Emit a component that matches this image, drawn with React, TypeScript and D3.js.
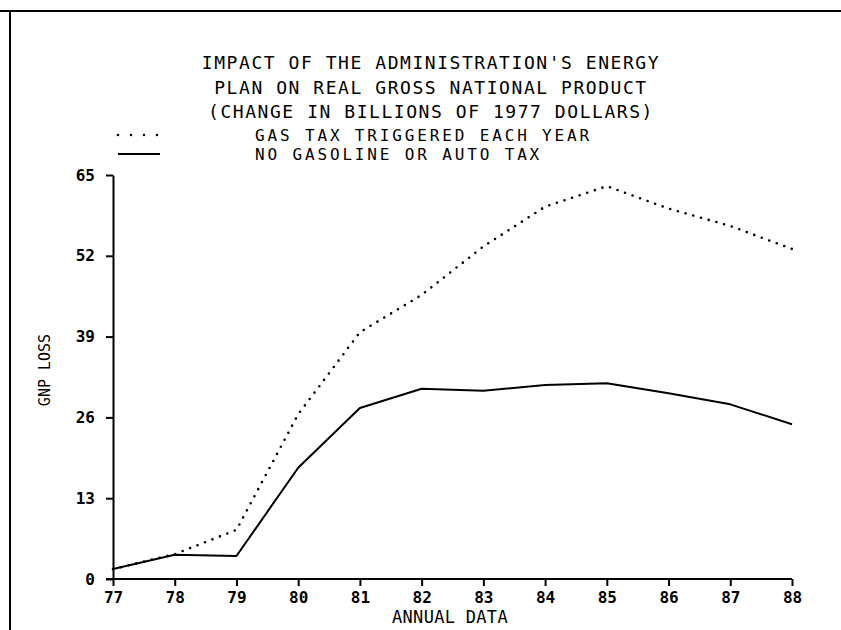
import { useEffect, useRef } from "react";
import * as d3 from "d3";

// values
const years = [77, 78, 79, 80, 81, 82, 83, 84, 85, 86, 87, 88];
const gasTaxEachYear = [1.6, 4.0, 7.9, 26.5, 39.7, 45.7, 53.5, 59.9, 63.2, 59.6, 56.8, 53.1];
const noGasolineTax = [1.6, 3.9, 3.7, 17.9, 27.5, 30.6, 30.3, 31.2, 31.5, 29.9, 28.1, 24.9];
const yTicks = [0, 13, 26, 39, 52, 65];
const titleLines = [
  "IMPACT OF THE ADMINISTRATION'S ENERGY",
  "PLAN ON REAL GROSS NATIONAL PRODUCT",
  "(CHANGE IN BILLIONS OF 1977 DOLLARS)",
];
const legendLabels = ["GAS TAX TRIGGERED EACH YEAR", "NO GASOLINE OR AUTO TAX"];

const W = 841;
const H = 630;
const FONT = "'DejaVu Sans Mono', 'Liberation Mono', monospace";

const App = () => {
  const ref = useRef<SVGSVGElement>(null);

  useEffect(() => {
    document.body.style.margin = "0";
    const svg = d3.select(ref.current);
    svg.selectAll("*").remove();

    const x = d3.scaleLinear().domain([77, 88]).range([113, 792]);
    const y = d3.scaleLinear().domain([0, 65]).range([579, 175]);

    // scanned page frame
    svg.append("line").attr("x1", 0).attr("x2", W).attr("y1", 11).attr("y2", 11)
      .attr("stroke", "#000").attr("stroke-width", 2);
    svg.append("line").attr("x1", 10).attr("x2", 10).attr("y1", 11).attr("y2", H)
      .attr("stroke", "#000").attr("stroke-width", 2);

    // title
    svg.append("g").selectAll("text").data(titleLines).enter().append("text")
      .attr("x", 431)
      .attr("y", (d, i) => 63 + i * 24.5)
      .attr("dy", "0.36em")
      .attr("text-anchor", "middle")
      .attr("font-family", FONT)
      .attr("font-size", 18)
      .attr("letter-spacing", 1.55)
      .text((d) => d);

    // legend (lines sit tight, as in the original plot)
    const legend = svg.append("g");
    legendLabels.forEach((lab, i) => {
      const ly = 135 + i * 19;
      legend.append("text")
        .attr("x", 255).attr("y", ly).attr("dy", "0.36em")
        .attr("font-family", FONT).attr("font-size", 16).attr("letter-spacing", 2.85)
        .text(lab);
      legend.append("line")
        .attr("x1", 118).attr("x2", 160).attr("y1", ly).attr("y2", ly)
        .attr("stroke", "#000")
        .attr("stroke-width", i === 0 ? 2.6 : 2)
        .attr("stroke-linecap", i === 0 ? "round" : "butt")
        .attr("stroke-dasharray", i === 0 ? "0 13" : null);
    });

    // axes
    const yAxis = svg.append("g")
      .attr("transform", "translate(113,0)")
      .call(d3.axisLeft(y).tickValues(yTicks).tickSize(7).tickSizeOuter(0).tickPadding(11));
    const xAxis = svg.append("g")
      .attr("transform", "translate(0,579)")
      .call(d3.axisBottom(x).tickValues(years).tickSize(7).tickSizeOuter(0).tickPadding(6));
    [yAxis, xAxis].forEach((ax) => {
      ax.select(".domain").attr("stroke-width", 2);
      ax.selectAll(".tick line").attr("stroke-width", 2);
      ax.selectAll(".tick text")
        .attr("font-family", FONT)
        .attr("font-size", 16)
        .attr("font-weight", "bold")
        .attr("fill", "#000");
    });
    xAxis.select(".domain").attr("d", "M106,0H792");

    // axis titles
    svg.append("text")
      .attr("x", 450).attr("y", 617).attr("dy", "0.36em")
      .attr("text-anchor", "middle")
      .attr("font-family", FONT).attr("font-size", 17).attr("letter-spacing", 0.3)
      .text("ANNUAL DATA");
    svg.append("text")
      .attr("transform", "translate(45,370) rotate(-90)")
      .attr("dy", "0.36em")
      .attr("text-anchor", "middle")
      .attr("font-family", FONT).attr("font-size", 15)
      .text("GNP LOSS");

    // series
    const line = d3.line<number>()
      .x((d, i) => x(years[i]))
      .y((d) => y(d));

    svg.append("path")
      .datum(gasTaxEachYear)
      .attr("d", line)
      .attr("fill", "none")
      .attr("stroke", "#000")
      .attr("stroke-width", 2.6)
      .attr("stroke-linecap", "round")
      .attr("stroke-dasharray", "0 8");

    svg.append("path")
      .datum(noGasolineTax)
      .attr("d", line)
      .attr("fill", "none")
      .attr("stroke", "#000")
      .attr("stroke-width", 2)
      .attr("stroke-linejoin", "round");
  }, []);

  return (
    <svg
      ref={ref}
      width={W}
      height={H}
      style={{ display: "block", background: "#fff" }}
    />
  );
};

export default App;
